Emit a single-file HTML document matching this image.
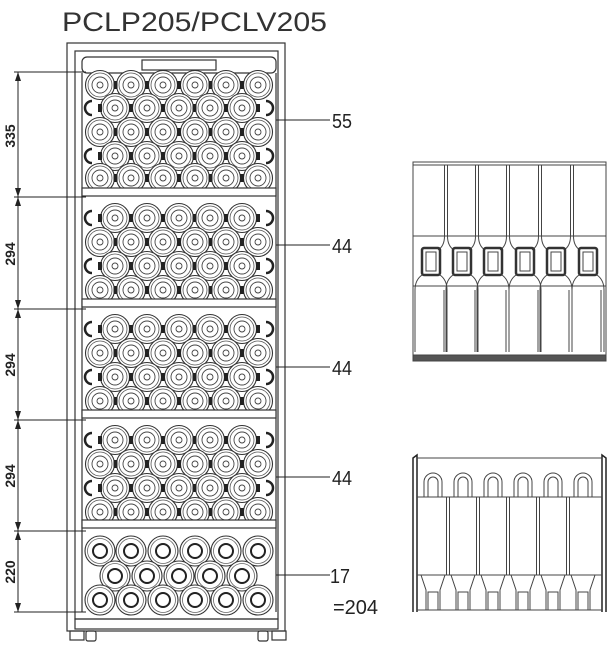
<!DOCTYPE html>
<html><head><meta charset="utf-8"><style>
html,body{margin:0;padding:0;background:#fff;width:615px;height:651px;overflow:hidden}
svg{display:block}
</style></head><body>
<svg id="s" width="615" height="651" viewBox="0 0 615 651" xmlns="http://www.w3.org/2000/svg" font-family="Liberation Sans, sans-serif">
<text x="62" y="31" font-size="27" fill="#333" textLength="265" lengthAdjust="spacingAndGlyphs">PCLP205/PCLV205</text>
<g fill="none" stroke="#333" stroke-width="1.2">
<rect x="67" y="43" width="218" height="588"/>
<rect x="75" y="51" width="203" height="568"/>
<rect x="82" y="57" width="194" height="16" rx="5"/>
<rect x="142" y="60" width="74" height="10"/>
<rect x="75" y="619" width="203" height="10"/>
<rect x="70" y="631" width="14" height="9"/>
<rect x="86" y="631" width="10" height="10" rx="2"/>
<rect x="258" y="631" width="10" height="10" rx="2"/>
<rect x="272" y="631" width="14" height="9"/>
<line x1="82" y1="73" x2="82" y2="612"/><line x1="276" y1="73" x2="276" y2="612"/>
</g>
<g id="bot"></g>
<g fill="#fff" stroke="#333" stroke-width="1.2">
<rect x="82" y="188" width="194" height="8"/>
<rect x="82" y="299" width="194" height="8"/>
<rect x="82" y="410" width="194" height="8"/>
<rect x="82" y="520" width="194" height="8"/>
</g>
<g stroke="#222" stroke-width="1" fill="none">
<line x1="18" y1="72" x2="18" y2="612"/>
<line x1="14" y1="72" x2="86" y2="72"/>
<line x1="14" y1="197" x2="86" y2="197"/>
<line x1="14" y1="309" x2="86" y2="309"/>
<line x1="14" y1="420" x2="86" y2="420"/>
<line x1="14" y1="531" x2="86" y2="531"/>
<line x1="14" y1="612" x2="86" y2="612"/>
<line x1="276" y1="120" x2="330" y2="120"/>
<line x1="276" y1="245" x2="330" y2="245"/>
<line x1="276" y1="367" x2="330" y2="367"/>
<line x1="276" y1="477" x2="330" y2="477"/>
<line x1="276" y1="575" x2="330" y2="575"/>
</g>
<g fill="#222">
<path d="M18 72l-3 9h6z M18 197l-3 -9h6z M18 197l-3 9h6z M18 309l-3 -9h6z M18 309l-3 9h6z M18 420l-3 -9h6z M18 420l-3 9h6z M18 531l-3 -9h6z M18 531l-3 9h6z M18 612l-3 -9h6z"/>
</g>
<g font-size="14" fill="#222" font-weight="bold">
<text transform="translate(15,136) rotate(-90)" text-anchor="middle">335</text>
<text transform="translate(15,254) rotate(-90)" text-anchor="middle">294</text>
<text transform="translate(15,365) rotate(-90)" text-anchor="middle">294</text>
<text transform="translate(15,476) rotate(-90)" text-anchor="middle">294</text>
<text transform="translate(15,572) rotate(-90)" text-anchor="middle">220</text>
</g>
<g font-size="20" fill="#222">
<text x="332" y="128" textLength="20" lengthAdjust="spacingAndGlyphs">55</text>
<text x="332" y="253" textLength="20" lengthAdjust="spacingAndGlyphs">44</text>
<text x="332" y="375" textLength="20" lengthAdjust="spacingAndGlyphs">44</text>
<text x="332" y="485" textLength="20" lengthAdjust="spacingAndGlyphs">44</text>
<text x="330" y="583" textLength="20" lengthAdjust="spacingAndGlyphs">17</text>
<text x="333" y="614" font-size="20">=204</text>
</g>
<g id="right" fill="none" stroke="#444" stroke-width="1"></g>
</svg>
<script>
var NS="http://www.w3.org/2000/svg";
function el(p,t,a){var e=document.createElementNS(NS,t);for(var k in a)e.setAttribute(k,a[k]);p.appendChild(e);return e;}
var g=document.getElementById('bot');
var al=[100,131,163,195,226,258], of=[115,147,179,210,242];
function bottle(x,y){
 el(g,'circle',{cx:x,cy:y,r:14.5,fill:'#fff',stroke:'#333','stroke-width':1.1});
 el(g,'circle',{cx:x,cy:y,r:12,fill:'none',stroke:'#555','stroke-width':0.8});
 el(g,'circle',{cx:x,cy:y,r:8,fill:'none',stroke:'#444','stroke-width':0.9});
 el(g,'circle',{cx:x,cy:y,r:3,fill:'none',stroke:'#444','stroke-width':0.9});
}
function sep(x,y){el(g,'rect',{x:x-2,y:y-4,width:4,height:8,fill:'#222'});}
function row(y,aligned){
 if(aligned){al.forEach(function(x){bottle(x,y)});for(var i=0;i<5;i++)sep((al[i]+al[i+1])/2,y);}
 else{of.forEach(function(x){bottle(x,y)});
  el(g,'path',{d:'M92 '+(y-7)+'a7 7 0 0 0 0 14',fill:'none',stroke:'#222','stroke-width':2.5});
  el(g,'path',{d:'M266 '+(y-7)+'a7 7 0 0 1 0 14',fill:'none',stroke:'#222','stroke-width':2.5});
  sep(100,y);sep(258,y);for(var i=0;i<4;i++)sep((of[i]+of[i+1])/2,y);}
}
[[85,1],[108,0],[132,1],[156,0],[178,1]].forEach(function(r){row(r[0],r[1])});
[218,329,440].forEach(function(b){row(b,0);row(b+24,1);row(b+48,0);row(b+72,1);});
function bb(x,y){
 el(g,'circle',{cx:x,cy:y,r:15,fill:'#fff',stroke:'#333','stroke-width':1.1});
 el(g,'circle',{cx:x,cy:y,r:12.5,fill:'none',stroke:'#666','stroke-width':0.8});
 el(g,'circle',{cx:x,cy:y,r:7,fill:'none',stroke:'#222','stroke-width':2});
}
al.forEach(function(x){bb(x,551)});of.forEach(function(x){bb(x,576)});al.forEach(function(x){bb(x,600)});
var r=document.getElementById('right');
el(r,'rect',{x:413,y:162,width:193,height:193});
el(r,'rect',{x:413,y:355,width:193,height:6,fill:'#555'});
el(r,'line',{x1:413,y1:165,x2:606,y2:165});
el(r,'line',{x1:413,y1:236,x2:606,y2:236});
el(r,'line',{x1:413,y1:286,x2:606,y2:286});
var td=[446,477,508,540,572];
td.forEach(function(x){el(r,'line',{x1:x-1.5,y1:165,x2:x-1.5,y2:236});el(r,'line',{x1:x+1.5,y1:165,x2:x+1.5,y2:236});
 el(r,'path',{d:'M'+(x-1.5)+' 236 Q'+(x-1.5)+' 246 '+(x-8)+' 250 M'+(x+1.5)+' 236 Q'+(x+1.5)+' 246 '+(x+8)+' 250'});});
var bn=[431,462,493,525,556,588];
bn.forEach(function(x){el(r,'rect',{x:x-9,y:248,width:18,height:27,rx:2,'stroke-width':2.5,stroke:'#333'});
 el(r,'rect',{x:x-5,y:252,width:10,height:19});
 el(r,'path',{d:'M'+(x-9)+' 275 Q'+(x-16)+' 280 '+(x-16)+' 290 L'+(x-16)+' 352 M'+(x+9)+' 275 Q'+(x+16)+' 280 '+(x+16)+' 290 L'+(x+16)+' 352'});
 el(r,'line',{x1:x+13,y1:290,x2:x+13,y2:352});});
el(r,'path',{d:'M413 612 L413 458 L417 455 L417 612 M606 612 L606 458 L602 455 L602 612',stroke:'#222','stroke-width':1.5});
el(r,'line',{x1:417,y1:458,x2:602,y2:458});
el(r,'line',{x1:417,y1:497,x2:602,y2:497});
el(r,'line',{x1:417,y1:575,x2:602,y2:575});
el(r,'line',{x1:417,y1:610,x2:602,y2:610});
var ac=[433,463,493,523,553,583];
ac.forEach(function(x){
 el(r,'path',{d:'M'+(x-9)+' 497 L'+(x-9)+' 482 A9 9 0 0 1 '+(x+9)+' 482 L'+(x+9)+' 497'});
 el(r,'path',{d:'M'+(x-5)+' 497 L'+(x-5)+' 482 A5 5 0 0 1 '+(x+5)+' 482 L'+(x+5)+' 497'});
 el(r,'path',{d:'M'+(x-12)+' 575 L'+(x-7)+' 590 L'+(x-7)+' 610 M'+(x+12)+' 575 L'+(x+7)+' 590 L'+(x+7)+' 610'});
 el(r,'rect',{x:x-5,y:592,width:10,height:18});
});
[448,478,508,538,568].forEach(function(x){el(r,'line',{x1:x-1.5,y1:497,x2:x-1.5,y2:575});el(r,'line',{x1:x+1.5,y1:497,x2:x+1.5,y2:575});});
</script>
</body></html>
